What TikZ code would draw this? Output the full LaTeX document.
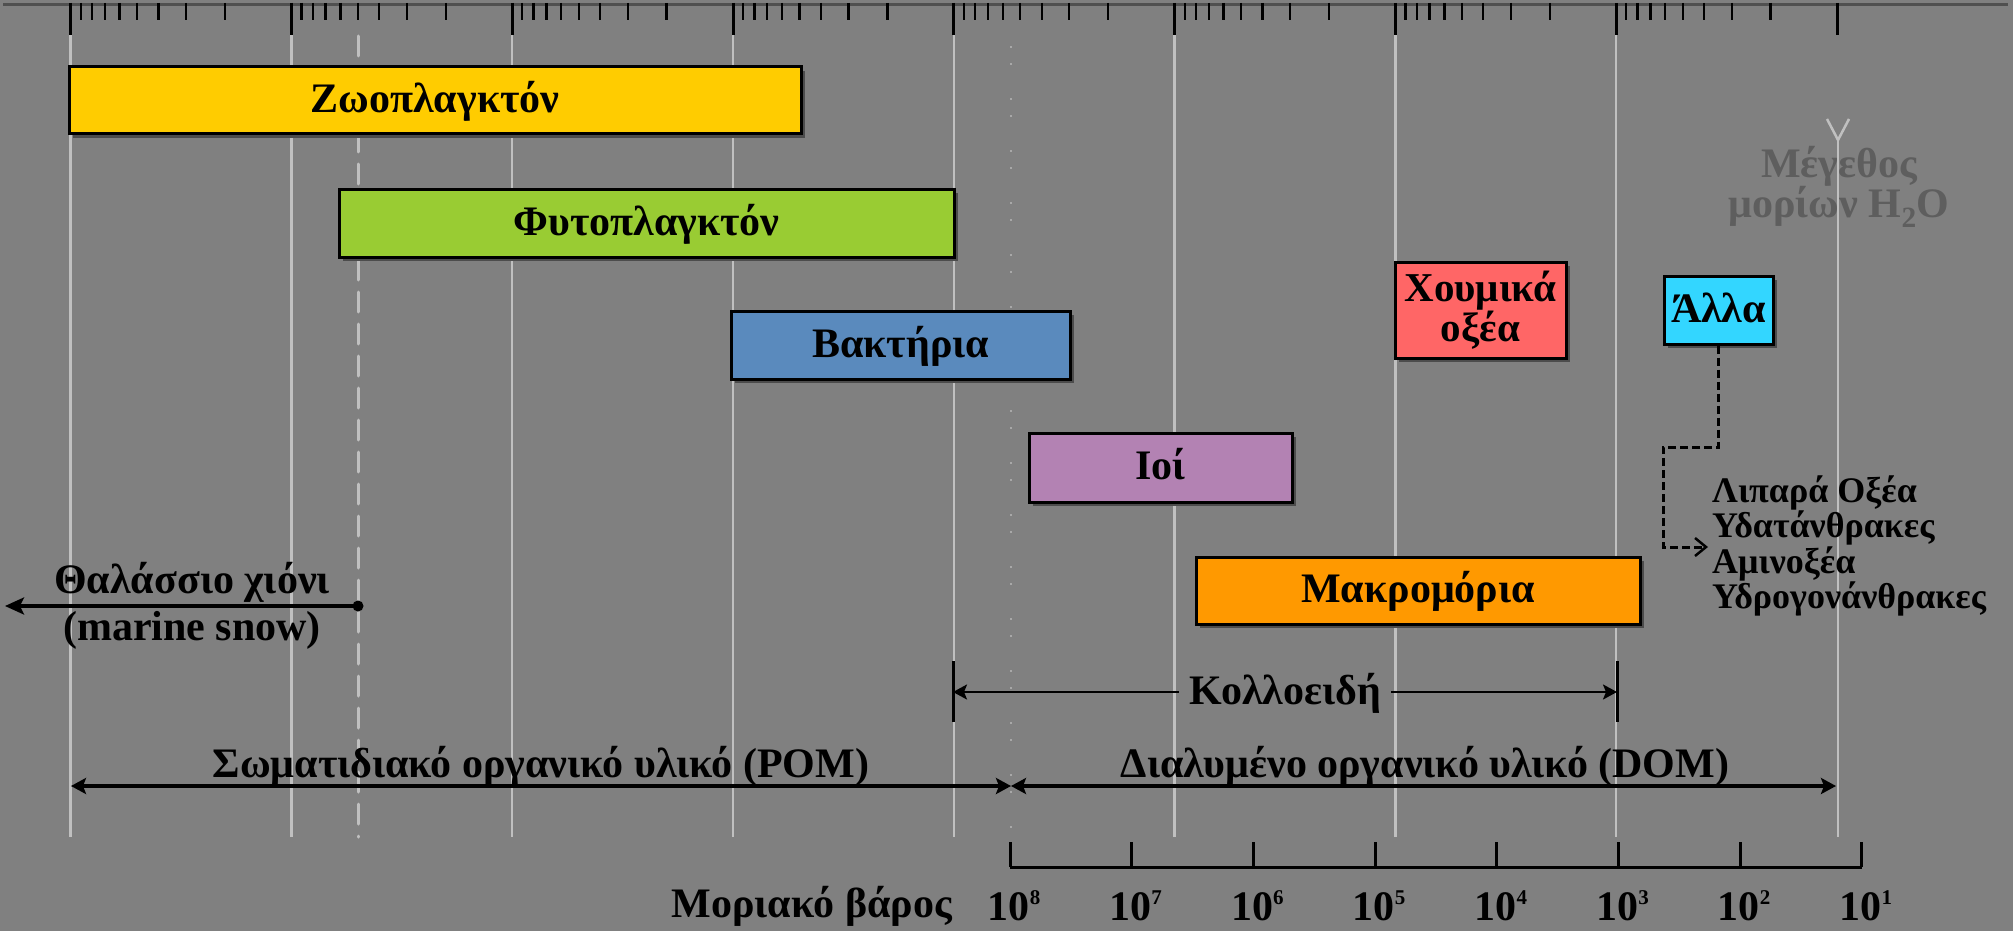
\documentclass[tikz,border=0pt]{standalone}
\usepackage{fontspec}
\setmainfont{Liberation Serif}
\usetikzlibrary{arrows.meta,shadows}
\definecolor{bgc}{HTML}{808080}
\definecolor{gridc}{HTML}{C0C0C0}
\definecolor{axisgray}{HTML}{505050}
\definecolor{dotc}{HTML}{A8A8A8}
\definecolor{zooc}{HTML}{FFCC00}
\definecolor{phyc}{HTML}{99CC33}
\definecolor{bacc}{HTML}{5A8ABD}
\definecolor{humc}{HTML}{FF6666}
\definecolor{othc}{HTML}{33D6FF}
\definecolor{virc}{HTML}{B382B3}
\definecolor{macc}{HTML}{FF9900}
\definecolor{h2oc}{HTML}{5E5E5E}
\newcommand{\expo}[1]{\raisebox{16pt}{\fontsize{21}{21}\selectfont #1}}
\begin{document}
\begin{tikzpicture}[x=1pt,y=-1pt,
  lbl/.style={font=\fontsize{42}{44}\selectfont\bfseries, inner sep=0pt},
  small/.style={font=\fontsize{36}{32}\selectfont\bfseries, inner sep=0pt, align=left},
  fixed/.style={text height=31pt, text depth=7pt},
  box/.style={lbl, draw=black, line width=3pt, drop shadow={shadow xshift=4pt,shadow yshift=-4pt,fill=black!70,opacity=1}},
  gridl/.style={draw=gridc, line width=2.5pt},
  majtick/.style={line width=3pt, black},
  mintick/.style={line width=2.3pt, black},
  bigspan/.style={line width=3.2pt, {Stealth[length=15pt,width=16pt,inset=3pt]}-{Stealth[length=15pt,width=16pt,inset=3pt]}},
  colspan/.style={line width=2.2pt, -{Stealth[length=14pt,width=15pt,inset=3pt]}},
  conn/.style={line width=3pt, dash pattern=on 8pt off 4pt, -{Straight Barb[length=11pt,width=18pt,line width=2.5pt]}}
]
\useasboundingbox (0,0) rectangle (2013,931);
\fill[bgc] (0,0) rectangle (2013,931);

% vertical grid lines
\foreach \k in {0,...,7}
  \draw[gridl] ({70.6+220.8*\k},35) -- ({70.6+220.8*\k},837);
\draw[gridl, line width=3pt, dash pattern=on 20pt off 12pt, line cap=round] (358,36) -- (358,837);
\draw[draw=dotc, line width=2pt, dash pattern=on 2pt off 15pt on 2pt off 33pt] (1011,46) -- (1011,830);

% water molecule size label and its line
\node[lbl, text=h2oc, anchor=base] (h2oa) at (1839,178) {Μέγεθος};
\node[lbl, text=h2oc, anchor=base] (h2ob) at (1839,217) {μορίων H\textsubscript{2}O};
\draw[gridl] (1827,119) -- (1838,140) -- (1849,119);
\draw[gridl] (1838,140) -- (1838,837);

% top logarithmic scale
\draw[draw=axisgray, line width=3pt] (3,4.5) -- (2008,4.5);
\foreach \k in {0,...,8}
  \draw[majtick] ({70.6+220.8*\k},3) -- ({70.6+220.8*\k},35);
\foreach \k in {0,...,7}
  \foreach \m in {2,...,9}
    \draw[mintick] ({70.6+220.8*(\k+1-log10(\m))},3) -- ({70.6+220.8*(\k+1-log10(\m))},20);

% boxes
\node[box, fixed, fill=zooc, minimum width=732pt, minimum height=67pt] (zoo) at (435,100.5) {Ζωοπλαγκτόν};
\node[box, fixed, fill=phyc, minimum width=615pt, minimum height=68pt] (phy) at (646.5,223) {Φυτοπλαγκτόν};
\node[box, fixed, fill=bacc, minimum width=339pt, minimum height=68pt] (bac) at (900.5,345) {Βακτήρια};
\node[box, fill=humc, minimum width=171pt, minimum height=96pt, align=center, font=\fontsize{41}{35}\selectfont\bfseries] (hum) at (1480.5,310) {Χουμικά\\οξέα};
\node[box, fixed, fill=othc, minimum width=109pt, minimum height=68pt] (oth) at (1718.5,310) {Άλλα};
\node[box, fixed, fill=virc, minimum width=263pt, minimum height=69pt] (vir) at (1160.5,467.5) {Ιοί};
\node[box, fixed, fill=macc, minimum width=444pt, minimum height=67pt] (mac) at (1418,590.5) {Μακρομόρια};

% other compounds list
\node[small, anchor=west, inner xsep=4pt] (lst) at (1708,546) {Λιπαρά Οξέα\\Υδατάνθρακες\\Αμινοξέα\\Υδρογονάνθρακες};
\coordinate (c1) at (1663,447);
\coordinate (c2) at (1663,547);
\draw[conn] (oth.south) -- (oth.south |- c1) -- (c1) -- (c2) -- (lst.west |- c2);

% marine snow
\node[lbl, anchor=base] (msa) at (192,593) {Θαλάσσιο χιόνι};
\node[lbl, anchor=base] (msb) at (192,640) {(marine snow)};
\node[circle, fill=black, inner sep=0pt, minimum size=11pt] (msdot) at (358,606) {};
\coordinate (msl) at (5,606);
\draw[line width=3.2pt, -{Stealth[length=19pt,width=17pt,inset=4pt]}] (msdot.center) -- (msl);

% colloids
\coordinate (kl) at (953,692);
\coordinate (kr) at (1617,692);
\draw[line width=3pt] (953,661) -- (953,722);
\draw[line width=3pt] (1617,661) -- (1617,722);
\node[lbl, fixed, inner xsep=10pt] (kol) at (1285,692) {Κολλοειδή};
\draw[colspan] (kol.west) -- (kl);
\draw[colspan] (kol.east) -- (kr);

% POM / DOM
\coordinate (pomL) at (71,786);
\coordinate (mid) at (1011,786);
\coordinate (domR) at (1836,786);
\draw[bigspan] (pomL) -- (mid);
\draw[bigspan] (mid) -- (domR);
\node[lbl, anchor=base] (pom) at (541,777) {Σωματιδιακό οργανικό υλικό (POM)};
\node[lbl, anchor=base] (dom) at (1425,777) {Διαλυμένο οργανικό υλικό (DOM)};

% molecular weight axis
\draw[line width=3pt] (1010,867) -- (1862,867);
\foreach \k in {0,...,7}
  \draw[line width=3pt] ({1010+121.7*\k},842) -- ({1010+121.7*\k},867);
\node[lbl, anchor=base east] (mw) at (952,917) {Μοριακό βάρος};
\foreach \k/\e in {0/8,1/7,2/6,3/5,4/4,5/3,6/2,7/1}
  \node[lbl, anchor=base] (w\e) at ({1014+121.7*\k},920) {10\expo{\e}};
\end{tikzpicture}
\end{document}
